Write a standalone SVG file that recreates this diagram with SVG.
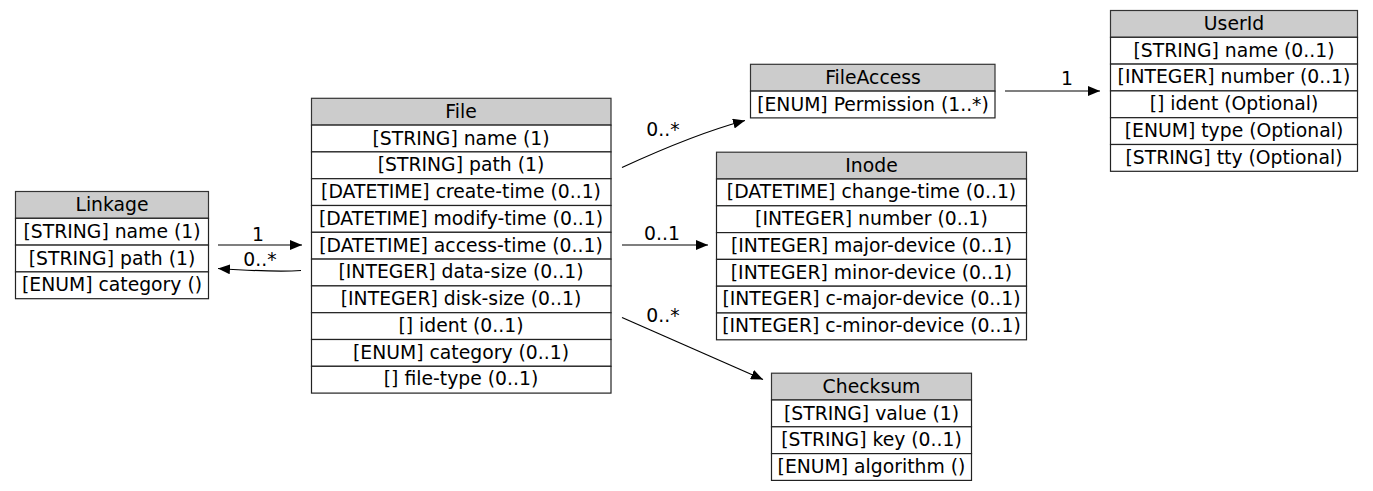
<svg xmlns="http://www.w3.org/2000/svg" width="1373" height="491" viewBox="0 0 1373 491">
<defs>
<style>
text{font-family:"DejaVu Sans",sans-serif;font-size:18.8px;fill:#000;text-anchor:middle}
.hd{fill:#cccccc;stroke:#333;stroke-width:1.2}
.rw{fill:#fff;stroke:#222;stroke-width:1.2}
.ed{fill:none;stroke:#000;stroke-width:1.2}
</style>
<marker id="ah" viewBox="0 0 12 10" refX="12" refY="5" markerWidth="12" markerHeight="10" markerUnits="userSpaceOnUse" orient="auto">
<path d="M0,0 L12,5 L0,10 z" fill="#000"/>
</marker>
</defs>
<rect width="1373" height="491" fill="#fff"/>

<g id="edges">
<path class="ed" d="M218,245 L302,245" marker-end="url(#ah)"/>
<text x="258" y="241">1</text>
<path class="ed" d="M301,270.5 C278,272 248,270.5 218,268.5" marker-end="url(#ah)"/>
<text x="260" y="266">0..*</text>
<path class="ed" d="M622,167.5 C660,150 702,132 745,120.5" marker-end="url(#ah)"/>
<text x="663" y="136">0..*</text>
<path class="ed" d="M622,245 L708,245" marker-end="url(#ah)"/>
<text x="662" y="240">0..1</text>
<path class="ed" d="M622,317.5 L763,379.5" marker-end="url(#ah)"/>
<text x="663" y="322">0..*</text>
<path class="ed" d="M1005,91 L1100,91" marker-end="url(#ah)"/>
<text x="1067" y="85">1</text>
</g>

<g id="Linkage">
<rect class="hd" x="15.5" y="191.5" width="193" height="26.8"/>
<rect class="rw" x="15.5" y="218.3" width="193" height="26.8"/>
<rect class="rw" x="15.5" y="245.1" width="193" height="26.8"/>
<rect class="rw" x="15.5" y="271.9" width="193" height="26.8"/>
<text x="112" y="211">Linkage</text>
<text x="112" y="238">[STRING] name (1)</text>
<text x="112" y="265">[STRING] path (1)</text>
<text x="112" y="291">[ENUM] category ()</text>
</g>

<g id="File">
<rect class="hd" x="311.5" y="98.3" width="299.5" height="26.8"/>
<rect class="rw" x="311.5" y="125.1" width="299.5" height="26.8"/>
<rect class="rw" x="311.5" y="151.9" width="299.5" height="26.8"/>
<rect class="rw" x="311.5" y="178.7" width="299.5" height="26.8"/>
<rect class="rw" x="311.5" y="205.5" width="299.5" height="26.8"/>
<rect class="rw" x="311.5" y="232.3" width="299.5" height="26.8"/>
<rect class="rw" x="311.5" y="259.1" width="299.5" height="26.8"/>
<rect class="rw" x="311.5" y="285.9" width="299.5" height="26.8"/>
<rect class="rw" x="311.5" y="312.7" width="299.5" height="26.8"/>
<rect class="rw" x="311.5" y="339.5" width="299.5" height="26.8"/>
<rect class="rw" x="311.5" y="366.3" width="299.5" height="26.8"/>
<text x="461" y="118">File</text>
<text x="461" y="145">[STRING] name (1)</text>
<text x="461" y="171">[STRING] path (1)</text>
<text x="461" y="198">[DATETIME] create-time (0..1)</text>
<text x="461" y="225">[DATETIME] modify-time (0..1)</text>
<text x="461" y="252">[DATETIME] access-time (0..1)</text>
<text x="461" y="278">[INTEGER] data-size (0..1)</text>
<text x="461" y="305">[INTEGER] disk-size (0..1)</text>
<text x="461" y="332">[] ident (0..1)</text>
<text x="461" y="359">[ENUM] category (0..1)</text>
<text x="461" y="385">[] file-type (0..1)</text>
</g>

<g id="FileAccess">
<rect class="hd" x="750.5" y="64.3" width="244.5" height="26.8"/>
<rect class="rw" x="750.5" y="91.1" width="244.5" height="26.8"/>
<text x="873" y="84">FileAccess</text>
<text x="873" y="111">[ENUM] Permission (1..*)</text>
</g>

<g id="Inode">
<rect class="hd" x="716.5" y="152.2" width="310" height="26.8"/>
<rect class="rw" x="716.5" y="179" width="310" height="26.8"/>
<rect class="rw" x="716.5" y="205.8" width="310" height="26.8"/>
<rect class="rw" x="716.5" y="232.6" width="310" height="26.8"/>
<rect class="rw" x="716.5" y="259.4" width="310" height="26.8"/>
<rect class="rw" x="716.5" y="286.2" width="310" height="26.8"/>
<rect class="rw" x="716.5" y="313" width="310" height="26.8"/>
<text x="871.5" y="172">Inode</text>
<text x="871.5" y="198">[DATETIME] change-time (0..1)</text>
<text x="871.5" y="225">[INTEGER] number (0..1)</text>
<text x="871.5" y="252">[INTEGER] major-device (0..1)</text>
<text x="871.5" y="279">[INTEGER] minor-device (0..1)</text>
<text x="871.5" y="305">[INTEGER] c-major-device (0..1)</text>
<text x="871.5" y="332">[INTEGER] c-minor-device (0..1)</text>
</g>

<g id="UserId">
<rect class="hd" x="1110.5" y="10.5" width="247" height="26.8"/>
<rect class="rw" x="1110.5" y="37.3" width="247" height="26.8"/>
<rect class="rw" x="1110.5" y="64.1" width="247" height="26.8"/>
<rect class="rw" x="1110.5" y="90.9" width="247" height="26.8"/>
<rect class="rw" x="1110.5" y="117.7" width="247" height="26.8"/>
<rect class="rw" x="1110.5" y="144.5" width="247" height="26.8"/>
<text x="1234" y="30">UserId</text>
<text x="1234" y="57">[STRING] name (0..1)</text>
<text x="1234" y="83">[INTEGER] number (0..1)</text>
<text x="1234" y="110">[] ident (Optional)</text>
<text x="1234" y="137">[ENUM] type (Optional)</text>
<text x="1234" y="164">[STRING] tty (Optional)</text>
</g>

<g id="Checksum">
<rect class="hd" x="771.5" y="373.2" width="200" height="26.8"/>
<rect class="rw" x="771.5" y="400" width="200" height="26.8"/>
<rect class="rw" x="771.5" y="426.8" width="200" height="26.8"/>
<rect class="rw" x="771.5" y="453.6" width="200" height="26.8"/>
<text x="871.5" y="393">Checksum</text>
<text x="871.5" y="420">[STRING] value (1)</text>
<text x="871.5" y="446">[STRING] key (0..1)</text>
<text x="871.5" y="473">[ENUM] algorithm ()</text>
</g>
</svg>
